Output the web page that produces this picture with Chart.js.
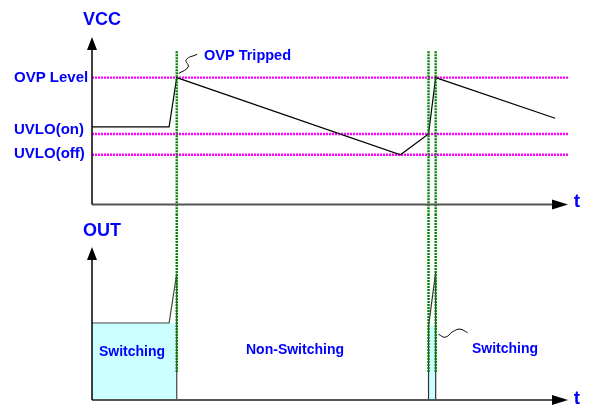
<!DOCTYPE html>
<html>
<head>
<meta charset="utf-8">
<script src="https://cdn.jsdelivr.net/npm/chart.js@4"></script>
<style>
  html, body { margin: 0; padding: 0; background: #fff; }
  #wrap { position: relative; width: 590px; height: 405px; }
  #wrap div { position: absolute; left: 0; width: 590px; }
  #vccBox { top: 0; height: 215px; }
  #outBox { top: 215px; height: 190px; }
</style>
</head>
<body>
<div id="wrap">
  <div id="vccBox"><canvas id="vccChart"></canvas></div>
  <div id="outBox"><canvas id="outChart"></canvas></div>
</div>
<script>
// time axis in arbitrary units (0..100), VCC in volts
const T_MAX = 100;
const VCC_MAX = 33;
const OUT_MAX = 30;

const levelNames = ["OVP Level", "UVLO(on)", "UVLO(off)"];
const levelValues = [25, 13.9, 9.8];

const vccTimes = [0, 16.2, 17.8, 64.8, 70.7, 72.2, 97.3];
const vccValues = [15.3, 15.3, 25, 9.8, 13.9, 25, 17.0];

// OVP trip instants (green markers)
const tripTimes = [17.8, 70.7, 72.2];

// OUT waveform: first switching burst, then second short one
const out1Times = [0, 16.2, 17.8, 17.8];
const out1Values = [15.1, 15.1, 24.8, 0];
const out2Times = [70.7, 70.7, 72.2, 72.2];
const out2Values = [0, 14.5, 25, 0];

// leader squiggles
const tripLeaderT = [18.2, 20.2, 19.8, 22.1];
const tripLeaderV = [25.8, 27.1, 28.5, 29.6];
const swLeaderT = [72.8, 74.2, 75.8, 77.3, 78.9];
const swLeaderV = [12.9, 12.3, 13.4, 13.9, 13.2];

const BLUE = "#0000ff";
const FONT = "'Liberation Sans', Arial, sans-serif";

function pts(xs, ys) {
  return xs.map((x, i) => ({ x: x, y: ys[i] }));
}

function arrowAxes(xColor) {
  return {
    id: "arrowAxes",
    afterDatasetsDraw(chart) {
      const ctx = chart.ctx;
      const a = chart.chartArea;
      ctx.save();
      // x axis
      ctx.strokeStyle = xColor;
      ctx.lineWidth = 2;
      ctx.beginPath();
      ctx.moveTo(a.left, a.bottom);
      ctx.lineTo(a.right - 12, a.bottom);
      ctx.stroke();
      ctx.fillStyle = "#000";
      ctx.beginPath();
      ctx.moveTo(a.right, a.bottom);
      ctx.lineTo(a.right - 16, a.bottom - 5);
      ctx.lineTo(a.right - 16, a.bottom + 5);
      ctx.closePath();
      ctx.fill();
      // y axis
      ctx.strokeStyle = "#000";
      ctx.lineWidth = 1.5;
      ctx.beginPath();
      ctx.moveTo(a.left, a.bottom);
      ctx.lineTo(a.left, a.top + 10);
      ctx.stroke();
      ctx.beginPath();
      ctx.moveTo(a.left, a.top);
      ctx.lineTo(a.left - 5, a.top + 13);
      ctx.lineTo(a.left + 5, a.top + 13);
      ctx.closePath();
      ctx.fill();
      ctx.restore();
    }
  };
}

function labels(items) {
  return {
    id: "labels",
    afterDraw(chart) {
      const ctx = chart.ctx;
      const xs = chart.scales.x, ys = chart.scales.y;
      ctx.save();
      ctx.fillStyle = BLUE;
      ctx.textBaseline = "middle";
      items.forEach(it => {
        ctx.font = "bold " + it.size + "px " + FONT;
        ctx.textAlign = it.align || "left";
        const px = it.t !== undefined ? xs.getPixelForValue(it.t) : it.px;
        const py = it.v !== undefined ? ys.getPixelForValue(it.v) : it.py;
        ctx.fillText(it.text, px + (it.dx || 0), py + (it.dy || 0));
      });
      ctx.restore();
    }
  };
}

const common = {
  responsive: true,
  maintainAspectRatio: false,
  animation: false,
  events: [],
  plugins: { legend: { display: false }, tooltip: { enabled: false } },
  elements: { point: { radius: 0 } }
};

// ---------- VCC panel ----------
const vccSets = [];
levelValues.forEach(v => {
  vccSets.push({
    data: pts([0, T_MAX], [v, v]),
    borderColor: "#ff00ff", borderWidth: 2.4, borderDash: [2, 1], order: 5
  });
});
vccSets.push({
  data: pts(vccTimes, vccValues),
  borderColor: "#000", borderWidth: 1.2, order: 2
});
tripTimes.forEach(t => {
  vccSets.push({
    data: pts([t, t], [30.2, -6]),
    borderColor: "#008000", borderWidth: 2.4, borderDash: [2, 1], clip: false, order: 1
  });
});
vccSets.push({
  data: pts(tripLeaderT, tripLeaderV),
  borderColor: "#000", borderWidth: 1, tension: 0.5, clip: false, order: 0
});

const vccLabels = [
  { text: "VCC", size: 18, align: "center", px: 102, py: 20 },
  { text: "t", size: 19, align: "center", px: 577, py: 202 },
  { text: "OVP Tripped", size: 14.5, px: 204, py: 56 },
  { text: levelNames[0], size: 15, px: 14, v: levelValues[0], dy: 0 },
  { text: levelNames[1], size: 15, px: 14, v: levelValues[1], dy: -4 },
  { text: levelNames[2], size: 15, px: 14, v: levelValues[2], dy: -1 }
];

new Chart(document.getElementById("vccChart"), {
  type: "line",
  data: { datasets: vccSets },
  options: Object.assign({}, common, {
    layout: { padding: { left: 92, right: 22, top: 37, bottom: 10.5 } },
    scales: {
      x: { type: "linear", min: 0, max: T_MAX, display: false },
      y: { type: "linear", min: 0, max: VCC_MAX, display: false }
    }
  }),
  plugins: [arrowAxes("#555"), labels(vccLabels)]
});

// ---------- OUT panel ----------
const outSets = [
  {
    data: pts([0, 17.8], [out1Values[0], out1Values[0]]),
    fill: "origin", backgroundColor: "#ccffff", borderWidth: 0, order: 9
  },
  {
    data: pts([70.7, 72.2], [out2Values[1], out2Values[1]]),
    fill: "origin", backgroundColor: "#ccffff", borderWidth: 0, order: 9
  },
  { data: pts(out1Times, out1Values), borderColor: "#444", borderWidth: 1.2, order: 3 },
  { data: pts(out2Times, out2Values), borderColor: "#333", borderWidth: 1.2, order: 3 }
];
tripTimes.forEach(t => {
  outSets.push({
    data: pts([t, t], [40, 5.5]),
    borderColor: "#008000", borderWidth: 2.4, borderDash: [2, 1], clip: false, order: 1
  });
});
outSets.push({
  data: pts(swLeaderT, swLeaderV),
  borderColor: "#000", borderWidth: 1, tension: 0.4, order: 0
});

const outLabels = [
  { text: "OUT", size: 18, align: "center", px: 102, py: 16 },
  { text: "t", size: 19, align: "center", px: 577, py: 184 },
  { text: "Switching", size: 14, align: "center", px: 132, py: 137 },
  { text: "Non-Switching", size: 14, align: "center", px: 295, py: 135.5 },
  { text: "Switching", size: 14, align: "center", px: 505, py: 134 }
];

new Chart(document.getElementById("outChart"), {
  type: "line",
  data: { datasets: outSets },
  options: Object.assign({}, common, {
    layout: { padding: { left: 92, right: 22, top: 32, bottom: 5 } },
    scales: {
      x: { type: "linear", min: 0, max: T_MAX, display: false },
      y: { type: "linear", min: 0, max: OUT_MAX, display: false }
    }
  }),
  plugins: [arrowAxes("#555"), labels(outLabels)]
});
</script>
</body>
</html>
